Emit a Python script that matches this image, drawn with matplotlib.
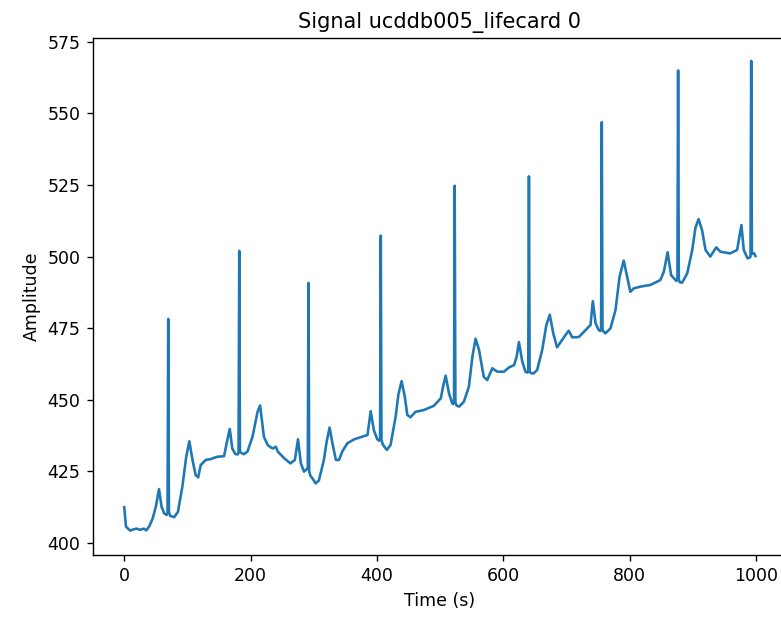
import numpy as np
import matplotlib
matplotlib.use("Agg")
from matplotlib import pyplot as plt

# signal vertices
time_s = [0, 2.7, 9.5, 15, 20, 25, 31, 35, 40, 45, 50, 55, 59, 63, 67,
          68.5, 69.6, 70.7, 72.5, 75, 79, 85, 92, 98, 103, 108, 113, 117, 121,
          129, 137, 147, 158, 162, 167, 171, 175.5, 179.5, 180.9, 182, 183.1,
          185, 189, 195, 203, 211, 215, 221, 227, 231, 235, 240, 243, 253, 263,
          270, 275, 279.5, 284.5, 289, 290.5, 291.6, 292.7, 294.5, 298, 303,
          308, 316, 320, 325, 329.5, 335, 340, 345, 353, 364, 374, 385, 387.5,
          390, 395, 400.5, 403.5, 404.9, 406, 407.1, 409, 412, 415.5, 421.5,
          429.5, 434, 439, 444, 448, 453, 461, 474, 490, 501, 505, 508.7, 514,
          519, 520.5, 521.9, 523, 524.1, 526, 530, 537.5, 545.5, 551, 556,
          561.5, 569, 574.5, 582.5, 590.5, 601, 609, 617, 621, 624.6, 630, 635,
          638, 639.4, 640.5, 641.6, 643.5, 648, 653.5, 661.5, 668, 673.5, 679,
          685, 693, 698, 703.5, 709, 719.5, 730, 738, 741.6, 746, 751, 753.5,
          754.7, 755.8, 756.9, 758.5, 761.5, 769.5, 777.5, 784, 790.5, 796, 801,
          806.5, 817, 833, 848.5, 854, 860, 865.5, 872.5, 874, 875.5, 876.6,
          877.7, 879.5, 883, 891, 899, 904, 909, 914.5, 920, 927.5, 937, 943.5,
          959, 970, 976.8, 980.5, 986.5, 989.5, 991.2, 992.3, 993.4, 995, 997,
          999]
amplitude = [412.5, 405.7, 404.3, 404.8, 405.0, 404.6, 405.0, 404.4, 406.0,
             408.6, 412.7, 418.8, 412.7, 410.4, 409.8, 410.5, 478.2, 411.0,
             409.5, 409.3, 409.0, 410.9, 419.7, 430.0, 435.5, 429.0, 423.7,
             422.9, 427.2, 429.0, 429.3, 430.1, 430.3, 434.8, 439.8, 433.0,
             431.1, 430.9, 431.5, 502.0, 432.0, 431.5, 431.0, 431.9, 437.1,
             445.8, 448.0, 437.1, 434.2, 433.5, 433.0, 433.6, 431.9, 429.6,
             427.8, 429.0, 436.2, 427.8, 424.9, 425.8, 426.5, 490.8, 425.0,
             423.5, 422.5, 420.8, 421.8, 429.0, 435.0, 440.3, 434.8, 429.0,
             429.0, 431.9, 434.8, 436.2, 436.9, 437.7, 441.8, 446.0, 439.4,
             436.2, 435.7, 436.3, 507.3, 436.0, 434.5, 433.5, 432.5, 434.2,
             444.1, 452.0, 456.5, 451.1, 444.7, 443.9, 445.8, 446.4, 447.9,
             450.5, 455.0, 458.4, 452.2, 448.8, 448.5, 449.0, 524.7, 449.0,
             448.0, 447.6, 449.3, 454.6, 465.0, 471.3, 467.4, 458.0, 456.9,
             461.0, 459.8, 459.8, 461.3, 462.1, 465.0, 470.1, 463.3, 459.8,
             459.5, 460.0, 528.0, 460.0, 459.3, 459.2, 460.4, 467.4, 476.0,
             479.7, 473.2, 468.3, 470.9, 472.5, 474.1, 471.8, 471.9, 474.3,
             476.1, 484.4, 476.7, 474.3, 474.0, 474.5, 546.9, 474.5, 473.8,
             473.2, 474.9, 481.3, 493.0, 498.6, 492.9, 487.7, 488.9, 489.5,
             490.1, 491.8, 494.7, 501.5, 493.5, 491.8, 491.5, 492.0, 565.0,
             492.0, 491.0, 490.9, 494.1, 502.3, 510.0, 513.1, 509.2, 502.3,
             500.0, 503.2, 501.7, 501.1, 502.3, 511.0, 502.3, 499.4, 499.6,
             500.0, 568.3, 501.0, 501.0, 501.1, 500.2]

fig = plt.figure(figsize=(781 / 125, 619 / 125), dpi=125)
ax = fig.add_axes([92.7 / 781, 1 - 555.3 / 619, (787 - 92.7) / 781, (555.3 - 38) / 619])

ax.plot(time_s, amplitude, color="#1f77b4")
ax.set_xlim(-49.95, 1048.95)
ax.set_ylim(395.7, 576.3)

ax.set_title("Signal ucddb005_lifecard 0")
ax.set_xlabel("Time (s)")
ax.set_ylabel("Amplitude")

fig.savefig("out.png", dpi=125)
